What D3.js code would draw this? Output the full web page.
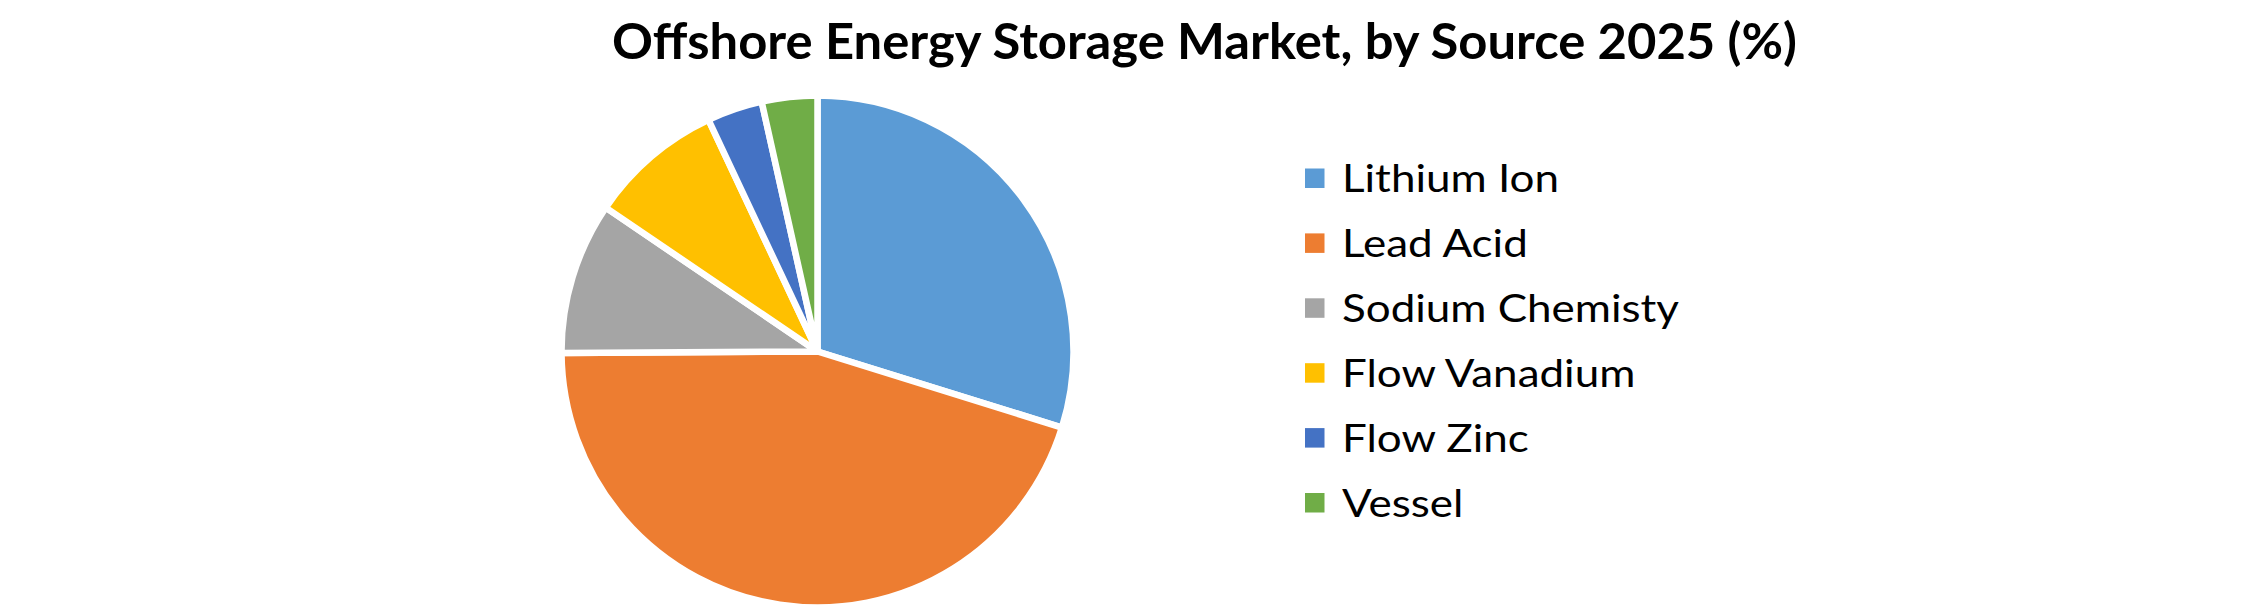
<!DOCTYPE html>
<html>
<head>
<meta charset="utf-8">
<script src="https://cdn.jsdelivr.net/npm/d3@7"></script>
<style>
  html, body { margin: 0; padding: 0; background: #ffffff; }
  svg { display: block; }
</style>
</head>
<body>
<svg id="chart" width="2245" height="610"></svg>
<script>
// ---- data ----
const titleText = "Offshore Energy Storage Market, by Source 2025 (%)";
const categories = ["Lithium Ion", "Lead Acid", "Sodium Chemisty", "Flow Vanadium", "Flow Zinc", "Vessel"];
const shares = [29.8, 45.1, 9.6, 8.5, 3.5, 3.5];
const palette = ["#5B9BD5", "#ED7D31", "#A5A5A5", "#FFC000", "#4472C4", "#70AD47"];

// ---- layout ----
const W = 2245, H = 610;
const cx = 817.5, cy = 351.5, R = 256;
const svg = d3.select("#chart");
svg.append("rect").attr("width", W).attr("height", H).attr("fill", "#ffffff");

// title
const title = svg.append("text")
  .attr("x", 1204.5).attr("y", 59)
  .attr("text-anchor", "middle")
  .attr("font-family", "Lato, 'Open Sans', 'Noto Sans', sans-serif")
  .attr("font-weight", "bold")
  .attr("font-size", 49)
  .attr("fill", "#000000")
  .text(titleText);
title.attr("textLength", 1185).attr("lengthAdjust", "spacingAndGlyphs");

// pie
const color = d3.scaleOrdinal().domain(categories).range(palette);
const pie = d3.pie().sort(null).value(d => d.v);
const arcs = pie(categories.map((c, i) => ({ c, v: shares[i] })));
const arc = d3.arc().innerRadius(0).outerRadius(R);
svg.append("g").attr("transform", `translate(${cx},${cy})`)
  .selectAll("path").data(arcs).join("path")
  .attr("d", arc)
  .attr("fill", d => color(d.data.c))
  .attr("stroke", "#ffffff")
  .attr("stroke-width", 6.5)
  .attr("stroke-linejoin", "round");

// legend
const legendY = d3.scalePoint().domain(categories).range([178, 502.5]);
const lg = svg.append("g");
const items = lg.selectAll("g").data(categories).join("g")
  .attr("transform", d => `translate(0,${legendY(d)})`);
items.append("rect")
  .attr("x", 1305).attr("y", -9.5).attr("width", 19.5).attr("height", 19.5)
  .attr("fill", d => color(d));
const labels = items.append("text")
  .attr("x", 1342).attr("y", 14)
  .attr("font-family", "Lato, 'Open Sans', 'Noto Sans', sans-serif")
  .attr("font-size", 39.5)
  .attr("fill", "#000000")
  .text(d => d);
// uniform horizontal fit so the widest label matches the reference width
const widest = labels.nodes()[2].getComputedTextLength();
const k = 337 / widest;
labels.each(function () {
  const w = this.getComputedTextLength();
  d3.select(this).attr("textLength", w * k).attr("lengthAdjust", "spacingAndGlyphs");
});
</script>
</body>
</html>
